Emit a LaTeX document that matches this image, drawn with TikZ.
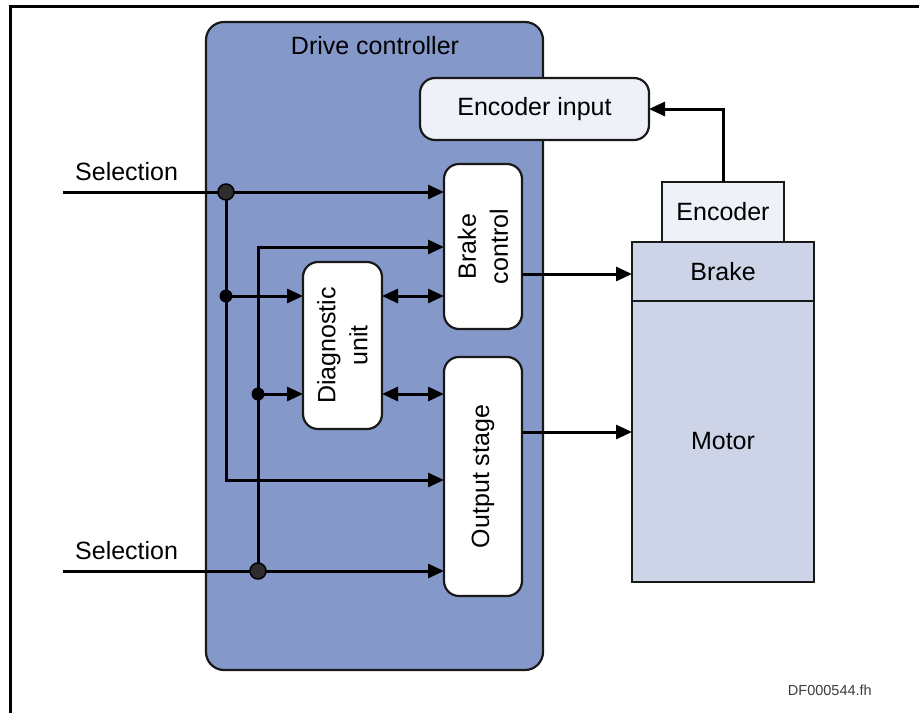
\documentclass[tikz,border=0pt]{standalone}
\usepackage{fontspec}
\setmainfont{Liberation Sans}
\usetikzlibrary{arrows.meta,calc}
\definecolor{ctrlblue}{RGB}{133,152,202}
\definecolor{paleblue}{RGB}{238,241,248}
\definecolor{motorblue}{RGB}{205,212,232}
\definecolor{dotgray}{RGB}{45,45,45}
\definecolor{notegray}{RGB}{60,60,60}

\begin{document}
\begin{tikzpicture}[x=1pt,y=-1pt,
  lbl/.style={font=\fontsize{25}{32}\selectfont, text=black, inner sep=0pt},
  frame/.style={line width=3pt, draw=black},
  outline/.style={draw=black!90, line width=2.2pt, outer sep=0pt, inner sep=0pt},
  rbox/.style={outline, rounded corners=15pt, fill=white},
  sqbox/.style={outline, fill=#1},
  sig/.style={line width=3pt, -{Triangle[length=16pt,width=14pt]}},
  bisig/.style={line width=3pt, {Triangle[length=16pt,width=14pt]}-{Triangle[length=16pt,width=14pt]}},
  bigdot/.style={circle, fill=dotgray, draw=black, line width=1.5pt, minimum size=16pt, inner sep=0pt},
  smalldot/.style={circle, fill=black, minimum size=13pt, inner sep=0pt},
]
\useasboundingbox (0,0) rectangle (919,713);

% page frame: top and left rules only
\coordinate (ftr) at (919,6);
\coordinate (ftl) at (10,6);
\coordinate (fbl) at (10,713);
\draw[frame] (ftr) -- (ftl) -- (fbl);

% drive controller housing
\node[outline, rounded corners=18pt, fill=ctrlblue, minimum width=337pt, minimum height=648pt]
  (ctrl) at (374.5,346) {};
\node[lbl, anchor=base] (ctrltxt) at (375,54) {Drive controller};

% blocks inside the controller
\node[rbox, fill=paleblue, minimum width=229pt, minimum height=62pt] (encin) at (534.5,109) {};
\node[lbl] (encintxt) at (encin) {Encoder input};

\node[rbox, minimum width=78pt, minimum height=165pt] (brakectl) at (483,246.5) {};
\node[lbl, rotate=90, align=center] (brakectltxt) at (brakectl) {Brake\\control};

\node[rbox, minimum width=78pt, minimum height=239pt] (outstage) at (483,476.5) {};
\node[lbl, rotate=90] (outstagetxt) at (outstage) {Output stage};

\node[rbox, minimum width=79pt, minimum height=167pt] (diag) at (342.5,345.5) {};
\node[lbl, rotate=90, align=center] (diagtxt) at (diag) {Diagnostic\\unit};

% motor with brake and encoder
\node[sqbox=paleblue, minimum width=122pt, minimum height=60pt] (encoder) at (723,212) {};
\node[lbl] (encodertxt) at (encoder) {Encoder};
\node[sqbox=motorblue, minimum width=182pt, minimum height=59pt] (brake) at (723,271.5) {};
\node[lbl] (braketxt) at (brake) {Brake};
\node[sqbox=motorblue, minimum width=182pt, minimum height=281pt] (motor) at (723,441.5) {};
\node[lbl] (motortxt) at (motor) {Motor};

% selection inputs
\node[lbl, anchor=base west] (sel1txt) at (75,180) {Selection};
\node[lbl, anchor=base west] (sel2txt) at (75,559) {Selection};
\coordinate (s1) at (63,192);
\coordinate (s2) at (63,571);

% junctions and bends
\coordinate (j1) at (226,192);
\coordinate (j2) at (226,296);
\coordinate (j3) at (258,394);
\coordinate (j4) at (258,571);
\coordinate (c1) at (226,480);
\coordinate (c2) at (258,247);
\coordinate (bk) at (0,274);
\coordinate (os) at (0,432);

% signal lines
\draw[sig] (s1) -- (s1 -| brakectl.west);
\draw[sig] (j1) -- (c1) -- (c1 -| outstage.west);
\draw[sig] (j2) -- (j2 -| diag.west);
\draw[sig] (j4) -- (c2) -- (c2 -| brakectl.west);
\draw[sig] (j3) -- (j3 -| diag.west);
\draw[sig] (s2) -- (s2 -| outstage.west);
\draw[bisig] (j2 -| diag.east) -- (j2 -| brakectl.west);
\draw[bisig] (j3 -| diag.east) -- (j3 -| outstage.west);
\draw[sig] (bk -| brakectl.east) -- (bk -| brake.west);
\draw[sig] (os -| outstage.east) -- (os -| motor.west);
\draw[sig] (encoder.north) |- (encin.east);

% junction dots
\node[bigdot] (d1) at (j1) {};
\node[smalldot] (d2) at (j2) {};
\node[smalldot] (d3) at (j3) {};
\node[bigdot] (d4) at (j4) {};

% drawing number
\node[font=\fontsize{14.5}{16}\selectfont, text=notegray, anchor=base east, inner sep=0pt]
  (docno) at (872,695) {DF000544.fh};
\end{tikzpicture}
\end{document}
